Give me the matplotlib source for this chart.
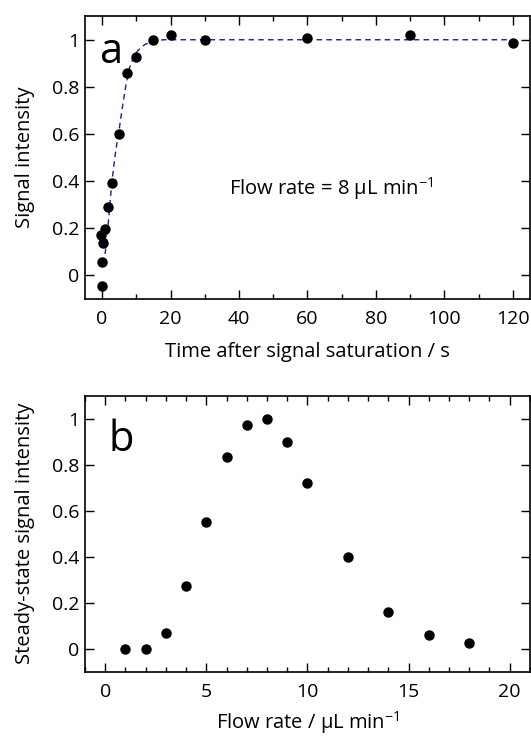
import matplotlib
matplotlib.use('Agg')
import matplotlib.pyplot as plt
from matplotlib.ticker import MultipleLocator, FuncFormatter

# Panel a: signal recovery after saturation (flow rate 8 uL/min)
time_s = [0, 0, 0.3, -0.2, 1, 1.8, 2.8, 5, 7.4, 9.8, 15, 20, 30, 60, 90, 120]
signal = [-0.047, 0.055, 0.136, 0.171, 0.196, 0.29, 0.392, 0.6, 0.858, 0.926,
          0.998, 1.022, 1.0, 1.006, 1.02, 0.986]

# dashed fit curve
fit_t = [0.4, 0.8, 1.5, 2.1, 2.7, 3.3, 4.0, 5.0, 6.0, 7.0, 8.0, 9.0, 10.5,
         12.5, 15, 18, 120]
fit_y = [0.05, 0.08, 0.17, 0.27, 0.37, 0.45, 0.53, 0.62, 0.72, 0.81, 0.88,
         0.92, 0.955, 0.98, 0.995, 1.0, 1.0]

# Panel b: steady-state signal vs flow rate
flow_rate = [1, 2, 3, 4, 5, 6, 7, 8, 9, 10, 12, 14, 16, 18]
steady = [0.0, 0.0, 0.068, 0.273, 0.549, 0.832, 0.974, 1.0, 0.898, 0.72,
          0.40, 0.16, 0.059, 0.023]

plt.rcParams['font.family'] = ['Open Sans', 'DejaVu Sans']
plt.rcParams['mathtext.fontset'] = 'custom'
plt.rcParams['mathtext.rm'] = 'Open Sans'
plt.rcParams['mathtext.default'] = 'regular'

fig = plt.figure(figsize=(5.31, 7.36), dpi=100)
ax_a = fig.add_axes([0.160, 0.594, 0.838, 0.384])
ax_b = fig.add_axes([0.160, 0.0874, 0.838, 0.375])

fmt = FuncFormatter(lambda v, pos: f'{v:g}')
LABEL_FS = 14.5
TICK_FS = 14


def style_axes(ax):
    for s in ax.spines.values():
        s.set_linewidth(1.2)
    ax.tick_params(which='both', direction='in', top=True, right=True,
                   width=1.0, labelsize=TICK_FS)
    ax.tick_params(which='major', length=6.5)
    ax.tick_params(which='minor', length=3.5)
    ax.tick_params(axis='x', pad=8)
    ax.tick_params(axis='y', pad=4)
    ax.yaxis.set_major_locator(MultipleLocator(0.2))
    ax.yaxis.set_major_formatter(fmt)
    ax.set_ylim(-0.1, 1.1)


# --- panel a ---
ax_a.plot(fit_t, fit_y, color='#1c1c96', lw=1.0, ls=(0, (4, 3)))
ax_a.plot(time_s, signal, 'o', color='black', ms=6.5, mec='black')
ax_a.set_xlim(-5, 125)
ax_a.xaxis.set_major_locator(MultipleLocator(20))
ax_a.xaxis.set_minor_locator(MultipleLocator(10))
style_axes(ax_a)
ax_a.set_xlabel('Time after signal saturation / s', fontsize=LABEL_FS,
                labelpad=10)
ax_a.set_ylabel('Signal intensity', fontsize=LABEL_FS, labelpad=12)
ax_a.text(0.031, 0.834, 'a', transform=ax_a.transAxes, fontsize=30,
          ha='left', va='baseline')
ax_a.text(67, 0.37, r'Flow rate = 8 µL min$^{-1}$', fontsize=LABEL_FS,
          ha='center', va='center')

# --- panel b ---
ax_b.plot(flow_rate, steady, 'o', color='black', ms=6.5, mec='black')
ax_b.set_xlim(-1, 21)
ax_b.xaxis.set_major_locator(MultipleLocator(5))
ax_b.xaxis.set_minor_locator(MultipleLocator(1))
style_axes(ax_b)
ax_b.set_xlabel(r'Flow rate / µL min$^{-1}$', fontsize=LABEL_FS, labelpad=6)
ax_b.set_ylabel('Steady-state signal intensity', fontsize=LABEL_FS,
                labelpad=12)
ax_b.text(0.052, 0.80, 'b', transform=ax_b.transAxes, fontsize=30,
          ha='left', va='baseline')

fig.savefig('out.png', dpi=100)
